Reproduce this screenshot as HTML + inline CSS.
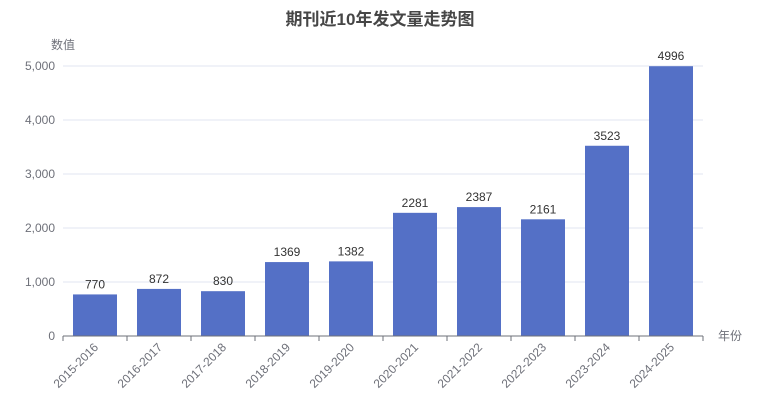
<!DOCTYPE html>
<html><head><meta charset="utf-8"><style>
body{margin:0;background:#fff;}
svg{display:block;font-family:"Liberation Sans","Noto Sans CJK SC",sans-serif;}
</style></head><body>
<svg id="chart" width="760" height="418" xmlns="http://www.w3.org/2000/svg">
<text x="380" y="25" text-anchor="middle" font-size="17" font-weight="bold" fill="#464646">期刊近10年发文量走势图</text>
<text x="63" y="49" text-anchor="middle" font-size="12" fill="#6e7079">数值</text>
<text x="718" y="340" font-size="12" fill="#6e7079">年份</text>
<g id="grid"></g><g id="bars"></g><g id="axis"></g>
</svg>
<script>
const categories=["2015-2016","2016-2017","2017-2018","2018-2019","2019-2020","2020-2021","2021-2022","2022-2023","2023-2024","2024-2025"];
const values=[770,872,830,1369,1382,2281,2387,2161,3523,4996];
const yTicks=[0,1000,2000,3000,4000,5000];
const yTickLabels=["0","1,000","2,000","3,000","4,000","5,000"];
const NS="http://www.w3.org/2000/svg";
const x0=63,x1=703,y0=336,y1=66,yMax=5000;
const band=(x1-x0)/categories.length;
const yScale=v=>y0-(v/yMax)*(y0-y1);
const xCenter=i=>x0+band*(i+0.5);
function mk(tag,attrs,parent){const e=document.createElementNS(NS,tag);for(const k in attrs)e.setAttribute(k,attrs[k]);parent.appendChild(e);return e;}
const grid=document.getElementById('grid'),bars=document.getElementById('bars'),axis=document.getElementById('axis');
yTicks.forEach((t,i)=>{
  const y=yScale(t);
  if(t>0){const l=mk('line',{x1:x0,x2:x1,y1:y,y2:y,stroke:'#e0e6f1'},grid);
  
  }
  const tx=mk('text',{x:x0-8,y:y+4,'text-anchor':'end','font-size':12,fill:'#6e7079'},axis);
  tx.textContent=yTickLabels[i];
  
  
});
const ax=mk('line',{x1:x0,x2:x1,y1:y0,y2:y0,stroke:'#6e7079'},axis);


for(let i=0;i<=categories.length;i++){
  const x=x0+band*i;
  const tk=mk('line',{x1:x,x2:x,y1:y0,y2:y0+5,stroke:'#6e7079'},axis);
  
  
}
categories.forEach((c,i)=>{
  const cx=xCenter(i),w=44,y=yScale(values[i]);
  const r=mk('rect',{x:cx-w/2,y:y,width:w,height:y0-y,fill:'#5470c6'},bars);
  
  
  const v=mk('text',{x:cx,y:y-6,'text-anchor':'middle','font-size':12,fill:'#333'},bars);
  v.textContent=values[i];
  
  
  const lb=mk('text',{x:cx+4,y:y0+12,'text-anchor':'end','font-size':12,fill:'#6e7079',transform:`rotate(-45 ${cx+4} ${y0+12})`},axis);
  lb.textContent=c;
  
  
});
</script>
</body></html>
